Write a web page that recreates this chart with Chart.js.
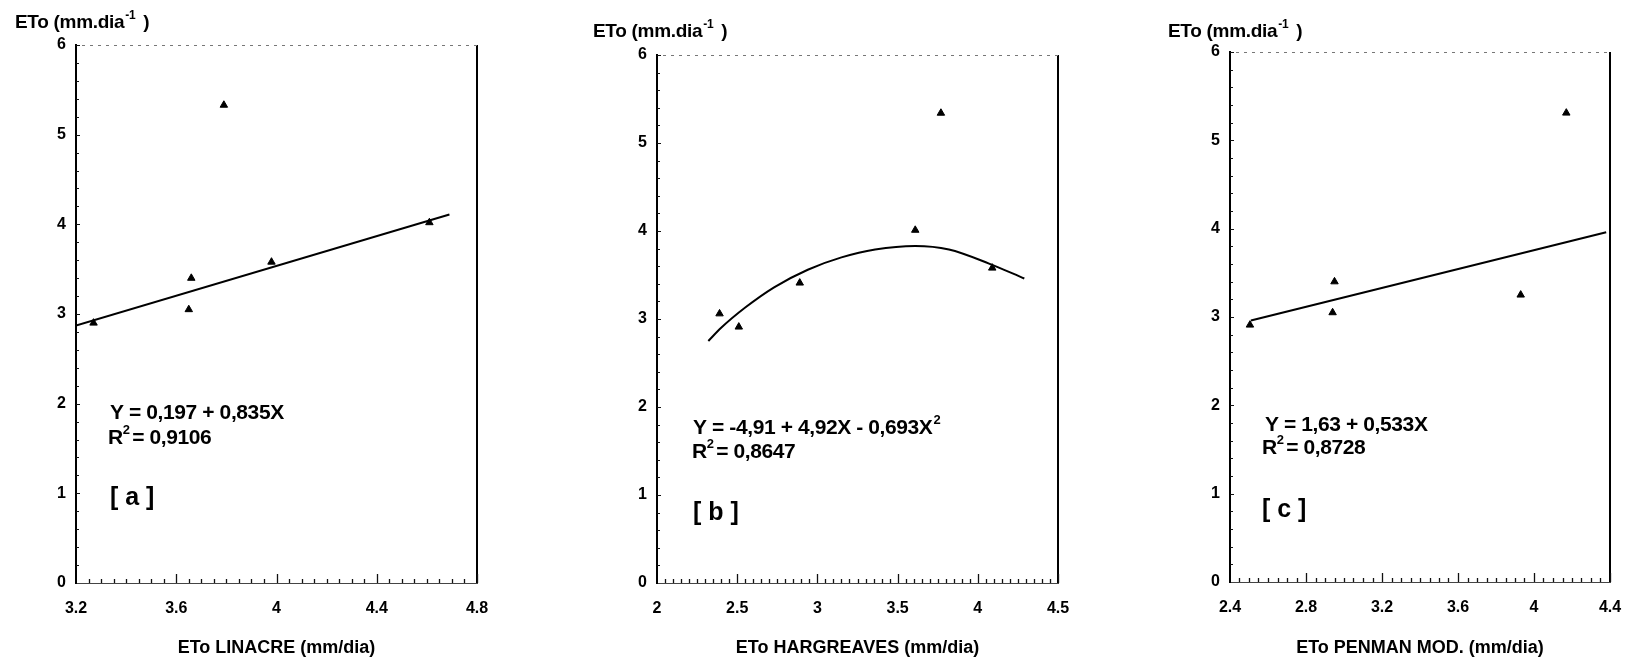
<!DOCTYPE html>
<html>
<head>
<meta charset="utf-8">
<script src="https://cdn.jsdelivr.net/npm/chart.js@4/dist/chart.umd.min.js"></script>
<style>
  html, body { margin: 0; padding: 0; background: #fff; }
  body { width: 1648px; height: 661px; position: relative; overflow: hidden; }
  canvas { position: absolute; top: 0; }
</style>
</head>
<body>
<canvas id="ca" width="540" height="661" style="left:0px;width:540px;height:661px"></canvas>
<canvas id="cb" width="560" height="661" style="left:540px;width:560px;height:661px"></canvas>
<canvas id="cc" width="548" height="661" style="left:1100px;width:548px;height:661px"></canvas>
<script>
// ---- data ----
const yTicks = [0, 1, 2, 3, 4, 5, 6];

// Panel a: ETo LINACRE
const xA = [3.27, 3.65, 3.66, 3.79, 3.98, 4.61];
const yA = [2.90, 3.05, 3.40, 5.33, 3.58, 4.02];
const fitAx = [3.20, 4.69];
const fitAy = [2.87, 4.11];
const xTicksA = [3.2, 3.6, 4.0, 4.4, 4.8];

// Panel b: ETo HARGREAVES
const xB = [2.39, 2.51, 2.89, 3.61, 3.77, 4.09];
const yB = [3.06, 2.91, 3.41, 4.01, 5.34, 3.58];
const fitBx = [2.32, 2.40, 2.55, 2.73, 2.94, 3.15, 3.36, 3.61, 3.82, 4.07, 4.29];
const fitBy = [2.75, 2.90, 3.13, 3.36, 3.56, 3.70, 3.79, 3.83, 3.79, 3.63, 3.46];
const xTicksB = [2, 2.5, 3, 3.5, 4, 4.5];

// Panel c: ETo PENMAN MOD.
const xC = [2.505, 2.94, 2.95, 3.93, 4.17];
const yC = [2.91, 3.05, 3.40, 3.25, 5.31];
const fitCx = [2.51, 4.38];
const fitCy = [2.96, 3.96];
const xTicksC = [2.4, 2.8, 3.2, 3.6, 4.0, 4.4];

const yTitle = 'ETo (mm.dia';
const xTitles = ['ETo LINACRE (mm/dia)', 'ETo HARGREAVES (mm/dia)', 'ETo PENMAN MOD. (mm/dia)'];
const eqLines = ['Y = 0,197 + 0,835X', 'Y = -4,91 + 4,92X - 0,693X', 'Y = 1,63 + 0,533X'];
const r2Values = ['0,9106', '0,8647', '0,8728'];
const panelTags = ['[ a ]', '[ b ]', '[ c ]'];

// ---- helpers ----
const FONT = '"Liberation Sans", Arial, Helvetica, sans-serif';
function pts(xs, ys) { return xs.map((x, i) => ({ x: x, y: ys[i] })); }

const decor = {
  id: 'decor',
  afterDraw(chart, args, o) {
    const { ctx, chartArea: { left, right, top, bottom }, scales: { x, y } } = chart;
    ctx.save();
    // right border
    ctx.strokeStyle = '#000'; ctx.lineWidth = 2; ctx.setLineDash([]);
    ctx.beginPath(); ctx.moveTo(right, top); ctx.lineTo(right, bottom); ctx.stroke();
    // top border (faint, dotted)
    ctx.strokeStyle = '#777'; ctx.lineWidth = 1; ctx.setLineDash([3, 5]);
    ctx.beginPath(); ctx.moveTo(left + 6, top + 0.5); ctx.lineTo(right, top + 0.5); ctx.stroke();
    ctx.setLineDash([]);
    // x ticks (inside)
    ctx.strokeStyle = '#111'; ctx.lineWidth = 1.3;
    const xmin = x.min, xmax = x.max;
    const n = Math.round((xmax - xmin) / 0.05);
    for (let i = 1; i <= n; i++) {
      const v = xmin + i * 0.05;
      const px = Math.round(x.getPixelForValue(v)) + 0.5;
      const isMajor = o.majors.some(m => Math.abs(m - v) < 1e-6);
      const len = isMajor ? 9 : 4;
      ctx.beginPath(); ctx.moveTo(px, bottom); ctx.lineTo(px, bottom - len); ctx.stroke();
    }
    // y ticks (inside)
    ctx.lineWidth = 1;
    for (let i = 1; i <= 30; i++) {
      const v = i * 0.2;
      const py = Math.round(y.getPixelForValue(v)) + 0.5;
      const len = (i % 5 === 0) ? 4 : 3;
      ctx.beginPath(); ctx.moveTo(left, py); ctx.lineTo(left + len, py); ctx.stroke();
    }
    // y-axis title at top-left
    ctx.fillStyle = '#000';
    ctx.textBaseline = 'middle'; ctx.textAlign = 'left';
    ctx.font = 'bold 19px ' + FONT;
    ctx.letterSpacing = '-0.3px';
    let tx = o.yt[0];
    ctx.fillText(yTitle, tx, o.yt[1]);
    tx += ctx.measureText(yTitle).width;
    ctx.font = 'bold 12px ' + FONT;
    ctx.fillText('-1', tx + 1, o.yt[1] - 7);
    tx += ctx.measureText('-1').width + 1;
    ctx.font = 'bold 19px ' + FONT;
    ctx.fillText(' )', tx + 3, o.yt[1]);
    // equation
    ctx.font = 'bold 21px ' + FONT;
    ctx.letterSpacing = '-0.4px';
    ctx.fillText(o.eq, o.eqPos[0], o.eqPos[1]);
    if (o.eqSup) {
      const w = ctx.measureText(o.eq).width;
      ctx.font = 'bold 13px ' + FONT;
      ctx.fillText('2', o.eqPos[0] + w + 1, o.eqPos[1] - 8);
    }
    // R^2 line
    ctx.font = 'bold 21px ' + FONT;
    ctx.fillText('R', o.r2Pos[0], o.r2Pos[1]);
    const rw = ctx.measureText('R').width;
    ctx.font = 'bold 13px ' + FONT;
    ctx.fillText('2', o.r2Pos[0] + rw, o.r2Pos[1] - 8);
    ctx.font = 'bold 21px ' + FONT;
    ctx.fillText(' = ' + o.r2, o.r2Pos[0] + rw + 4, o.r2Pos[1]);
    // panel tag
    ctx.letterSpacing = '0px';
    ctx.font = 'bold 25px ' + FONT;
    ctx.fillText(o.tag, o.tagPos[0], o.tagPos[1]);
    ctx.restore();
  }
};

function makeChart(id, cfg) {
  const canvas = document.getElementById(id);
  return new Chart(canvas, {
    type: 'scatter',
    data: {
      datasets: [
        {
          data: pts(cfg.px, cfg.py),
          pointStyle: 'triangle', pointRadius: 4.3,
          backgroundColor: '#000', borderColor: '#000', borderWidth: 1,
          showLine: false
        },
        {
          data: pts(cfg.fx, cfg.fy),
          showLine: true, pointRadius: 0, borderColor: '#000', borderWidth: 2,
          cubicInterpolationMode: cfg.smooth ? 'monotone' : 'default',
          tension: 0, fill: false
        }
      ]
    },
    options: {
      responsive: false, animation: false,
      layout: { padding: { left: 0, right: cfg.padRight, top: cfg.padTop, bottom: 0 } },
      plugins: {
        legend: { display: false }, tooltip: { enabled: false },
        decor: {
          majors: cfg.xTicks, yt: cfg.yt, eq: cfg.eq, eqSup: cfg.eqSup, eqPos: cfg.eqPos,
          r2: cfg.r2, r2Pos: cfg.r2Pos, tag: cfg.tag, tagPos: cfg.tagPos
        }
      },
      scales: {
        x: {
          type: 'linear', position: 'bottom',
          min: cfg.xTicks[0], max: cfg.xTicks[cfg.xTicks.length - 1],
          afterBuildTicks: s => { s.ticks = cfg.xTicks.map(v => ({ value: v })); },
          afterFit: s => { s.height = 661 - cfg.bottom; },
          grid: { display: false, drawTicks: false },
          border: { display: true, color: '#444', width: 1, dash: [2, 2] },
          ticks: {
            color: '#000', padding: 16, maxRotation: 0, autoSkip: false,
            font: { family: FONT, size: 16, weight: 'bold' },
            callback: v => String(+v.toFixed(2))
          },
          title: {
            display: true, text: cfg.xTitle, color: '#000',
            font: { family: FONT, size: 18, weight: 'bold' },
            padding: { top: 0, bottom: 2 }
          }
        },
        y: {
          type: 'linear', position: 'left', min: 0, max: 6,
          afterBuildTicks: s => { s.ticks = yTicks.map(v => ({ value: v })); },
          afterFit: s => { s.width = cfg.left; },
          grid: { display: false, drawTicks: false },
          border: { display: true, color: '#000', width: 2 },
          ticks: {
            color: '#000', padding: 10, autoSkip: false,
            font: { family: FONT, size: 16, weight: 'bold' },
            callback: v => String(v)
          }
        }
      }
    },
    plugins: [decor]
  });
}

makeChart('ca', {
  px: xA, py: yA, fx: fitAx, fy: fitAy, xTicks: xTicksA,
  left: 76, padRight: 540 - 477, padTop: 45, bottom: 583,
  xTitle: xTitles[0], yt: [15, 23],
  eq: eqLines[0], eqSup: false, eqPos: [110, 413],
  r2: r2Values[0], r2Pos: [108, 438], tag: panelTags[0], tagPos: [110, 498]
});
makeChart('cb', {
  px: xB, py: yB, fx: fitBx, fy: fitBy, xTicks: xTicksB, smooth: true,
  left: 117, padRight: 560 - 518, padTop: 55, bottom: 583,
  xTitle: xTitles[1], yt: [53, 32],
  eq: eqLines[1], eqSup: true, eqPos: [153, 428],
  r2: r2Values[1], r2Pos: [152, 452], tag: panelTags[1], tagPos: [153, 513]
});
makeChart('cc', {
  px: xC, py: yC, fx: fitCx, fy: fitCy, xTicks: xTicksC,
  left: 130, padRight: 548 - 510, padTop: 52, bottom: 582,
  xTitle: xTitles[2], yt: [68, 32],
  eq: eqLines[2], eqSup: false, eqPos: [165, 425],
  r2: r2Values[2], r2Pos: [162, 448], tag: panelTags[2], tagPos: [162, 510]
});
</script>
</body>
</html>
